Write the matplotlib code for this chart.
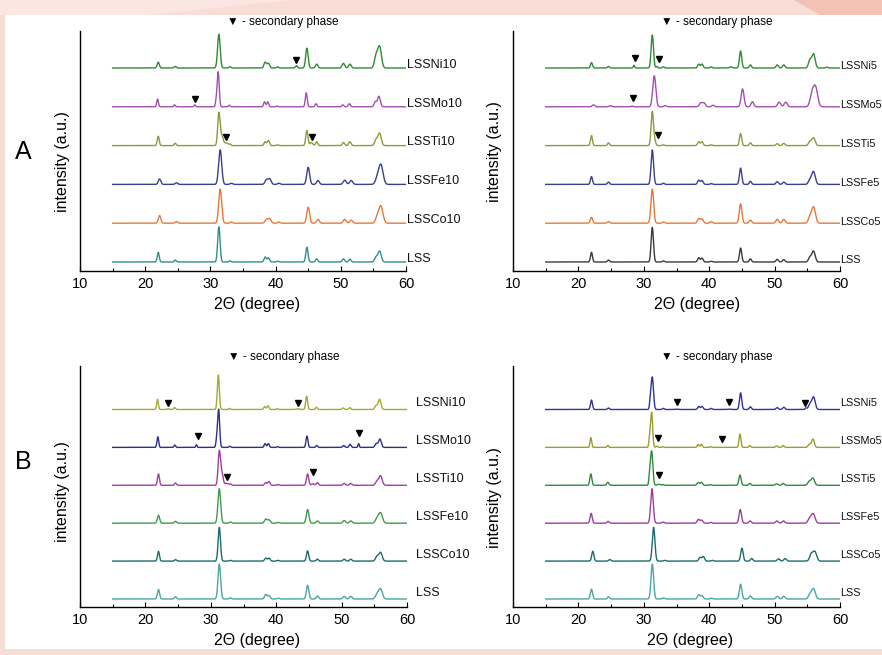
import numpy as np
import matplotlib
matplotlib.use("Agg")
import matplotlib.pyplot as plt
from matplotlib.patches import Rectangle, Polygon
from matplotlib.transforms import blended_transform_factory

plt.rcParams['font.family'] = ['Liberation Sans', 'DejaVu Sans']

# ---------------- data ----------------
# common perovskite reflections (2theta, degree) and base peak widths (sigma, degree)
peak_pos = [22.0, 24.6, 31.3, 33.0, 38.4, 38.9, 40.3, 44.8, 46.3, 50.4, 51.4, 55.4, 55.95]
peak_sig = [0.15, 0.15, 0.18, 0.15, 0.17, 0.17, 0.15, 0.17, 0.16, 0.18, 0.18, 0.22, 0.25]

# Panel A (left): bottom -> top
AL_names = ["LSS", "LSSCo10", "LSSFe10", "LSSTi10", "LSSMo10", "LSSNi10"]
AL_colors = ["#2f8f8f", "#e8783a", "#3b3f92", "#8c9a3a", "#a34fb0", "#2f8a35"]
AL_heights = [
    [0.25, 0.05, 0.91, 0.03, 0.13, 0.11, 0.02, 0.38, 0.08, 0.08, 0.07, 0.12, 0.28],
    [0.20, 0.04, 0.88, 0.03, 0.10, 0.12, 0.03, 0.41, 0.10, 0.10, 0.08, 0.15, 0.43],
    [0.14, 0.04, 0.89, 0.03, 0.12, 0.14, 0.03, 0.44, 0.10, 0.11, 0.10, 0.15, 0.50],
    [0.24, 0.06, 0.84, 0.03, 0.10, 0.13, 0.02, 0.39, 0.10, 0.08, 0.10, 0.15, 0.32],
    [0.20, 0.05, 0.90, 0.04, 0.13, 0.13, 0.02, 0.36, 0.08, 0.05, 0.08, 0.13, 0.27],
    [0.15, 0.04, 0.87, 0.03, 0.15, 0.12, 0.03, 0.51, 0.10, 0.12, 0.10, 0.30, 0.55],
]
AL_shift = [0.0, 0.2, 0.2, 0.0, -0.1, 0.0]
AL_width = [1.0, 1.25, 1.3, 1.0, 0.85, 1.1]
AL_extra = [[], [], [],
            [(31.75, 0.25, 0.2), (32.4, 0.07, 0.3), (45.5, 0.08, 0.2)],
            [(27.6, 0.05, 0.12), (30.9, 0.15, 0.12)],
            [(43.2, 0.06, 0.15)]]
AL_marks = [(5, 43.2, 0.21), (4, 27.7, 0.20), (3, 32.4, 0.22), (3, 45.6, 0.22)]

# Panel A (right)
AR_names = ["LSS", "LSSCo5", "LSSFe5", "LSSTi5", "LSSMo5", "LSSNi5"]
AR_colors = ["#3a3a3a", "#e8783a", "#3b3f92", "#8c9a3a", "#a34fb0", "#2f8a35"]
AR_heights = [
    [0.25, 0.05, 0.89, 0.03, 0.11, 0.10, 0.02, 0.36, 0.08, 0.07, 0.06, 0.12, 0.28],
    [0.15, 0.04, 0.88, 0.03, 0.12, 0.11, 0.04, 0.50, 0.08, 0.10, 0.10, 0.15, 0.41],
    [0.20, 0.06, 0.89, 0.03, 0.11, 0.10, 0.02, 0.42, 0.08, 0.07, 0.06, 0.12, 0.33],
    [0.26, 0.07, 0.88, 0.02, 0.10, 0.10, 0.02, 0.31, 0.07, 0.05, 0.06, 0.10, 0.20],
    [0.05, 0.03, 0.80, 0.03, 0.10, 0.10, 0.04, 0.46, 0.13, 0.12, 0.12, 0.30, 0.50],
    [0.14, 0.04, 0.85, 0.03, 0.10, 0.10, 0.03, 0.44, 0.08, 0.08, 0.08, 0.20, 0.36],
]
AR_shift = [0.0, 0.0, 0.0, 0.0, 0.3, 0.0]
AR_width = [1.0, 1.15, 1.05, 1.0, 1.3, 1.0]
AR_extra = [[], [], [],
            [(31.7, 0.10, 0.15)],
            [(28.2, 0.02, 0.12)],
            [(28.5, 0.07, 0.1), (32.0, 0.04, 0.12), (43.3, 0.03, 0.2), (58.0, 0.02, 0.2)]]
AR_marks = [(5, 28.6, 0.25), (5, 32.3, 0.22), (4, 28.4, 0.22), (3, 32.2, 0.27)]

# Panel B (left)
BL_names = ["LSS", "LSSCo10", "LSSFe10", "LSSTi10", "LSSMo10", "LSSNi10"]
BL_colors = ["#4aa5a5", "#1d6b6b", "#3f9a4c", "#a23ea0", "#2d2f8c", "#a3aa34"]
BL_heights = [
    [0.25, 0.06, 0.92, 0.03, 0.12, 0.09, 0.02, 0.36, 0.08, 0.07, 0.07, 0.12, 0.27],
    [0.26, 0.04, 0.89, 0.02, 0.08, 0.08, 0.02, 0.27, 0.05, 0.05, 0.05, 0.12, 0.23],
    [0.21, 0.05, 0.91, 0.03, 0.11, 0.09, 0.02, 0.36, 0.06, 0.07, 0.06, 0.12, 0.27],
    [0.30, 0.06, 0.90, 0.03, 0.07, 0.10, 0.02, 0.30, 0.07, 0.05, 0.05, 0.10, 0.25],
    [0.28, 0.06, 1.00, 0.03, 0.10, 0.10, 0.02, 0.30, 0.05, 0.05, 0.08, 0.10, 0.22],
    [0.27, 0.05, 0.91, 0.03, 0.08, 0.10, 0.02, 0.35, 0.06, 0.04, 0.05, 0.10, 0.27],
]
BL_shift = [0.0, 0.0, 0.0, 0.0, -0.1, -0.15]
BL_width = [1.1, 1.0, 1.15, 1.0, 0.85, 0.85]
BL_extra = [[], [], [],
            [(31.7, 0.30, 0.18), (32.4, 0.05, 0.3), (45.6, 0.04, 0.2)],
            [(27.8, 0.07, 0.1), (30.9, 0.20, 0.12), (52.6, 0.10, 0.1)],
            [(23.5, 0.02, 0.15), (43.3, 0.02, 0.2)]]
BL_marks = [(5, 23.5, 0.18), (5, 43.4, 0.18), (4, 28.0, 0.30), (4, 52.6, 0.37),
            (3, 32.5, 0.23), (3, 45.6, 0.36)]

# Panel B (right)
BR_names = ["LSS", "LSSCo5", "LSSFe5", "LSSTi5", "LSSMo5", "LSSNi5"]
BR_colors = ["#4aa5a5", "#1d6b6b", "#9c3f9c", "#2f8c3e", "#9c9c30", "#30349e"]
BR_heights = [
    [0.26, 0.06, 0.92, 0.03, 0.11, 0.09, 0.02, 0.39, 0.08, 0.07, 0.07, 0.12, 0.27],
    [0.26, 0.04, 0.89, 0.02, 0.10, 0.12, 0.02, 0.34, 0.07, 0.06, 0.07, 0.18, 0.25],
    [0.26, 0.05, 0.91, 0.03, 0.10, 0.08, 0.02, 0.36, 0.06, 0.06, 0.06, 0.12, 0.25],
    [0.30, 0.08, 0.90, 0.02, 0.07, 0.08, 0.02, 0.27, 0.05, 0.04, 0.05, 0.10, 0.19],
    [0.26, 0.05, 0.92, 0.02, 0.08, 0.08, 0.02, 0.35, 0.05, 0.04, 0.05, 0.08, 0.22],
    [0.25, 0.04, 0.85, 0.03, 0.08, 0.08, 0.03, 0.44, 0.07, 0.05, 0.06, 0.14, 0.33],
]
BR_shift = [0.0, 0.2, -0.05, -0.1, -0.1, 0.0]
BR_width = [1.1, 1.1, 1.1, 1.0, 0.85, 1.0]
BR_extra = [[], [], [],
            [(30.9, 0.25, 0.12), (32.3, 0.03, 0.2)],
            [(30.9, 0.25, 0.12), (32.0, 0.03, 0.15)],
            [(31.0, 0.20, 0.12), (35.0, 0.01, 0.2), (43.0, 0.01, 0.2), (54.8, 0.04, 0.12)]]
BR_marks = [(5, 35.0, 0.21), (5, 43.0, 0.21), (5, 54.6, 0.18), (4, 32.2, 0.26),
            (4, 41.9, 0.21), (3, 32.4, 0.26)]

x_start, x_end = 15.0, 60.0
tick_vals = [10, 20, 30, 40, 50, 60]

# ---------------- figure ----------------
W, H = 882, 655
fig = plt.figure(figsize=(W / 100, H / 100), dpi=100)
fig.patch.set_facecolor("#f8dcd6")
# decorative pink background shapes + white panel (behind the axes)
fig.add_artist(Polygon([(0, 1), (0.33, 1), (0.17, 0.977), (0, 0.977)], closed=True,
                       transform=fig.transFigure, facecolor="#fbe6e1", edgecolor="none",
                       zorder=-10))
fig.add_artist(Polygon([(0.9, 1), (1, 1), (1, 0.977), (0.93, 0.977)], closed=True,
                       transform=fig.transFigure, facecolor="#f4c1b6", edgecolor="none",
                       zorder=-10))
fig.add_artist(Rectangle((5 / W, 6 / H), 1 - 5 / W, (649 - 15) / H, transform=fig.transFigure,
                         facecolor="white", edgecolor="none", zorder=-9))

grid = np.linspace(x_start, x_end, 3000)


def pattern(heights, shift, wscale, extra):
    y = np.zeros_like(grid)
    for p, s, h in zip(peak_pos, peak_sig, heights):
        sg = s * wscale
        y += h * np.exp(-0.5 * ((grid - p - shift) / sg) ** 2)
    for p, h, s in extra:
        y += h * np.exp(-0.5 * ((grid - p) / s) ** 2)
    return y


def panel(rect, names, colors, heights, shifts, widths, extras, marks,
          spacing_px, base_px, label_dx, label_dy, label_fs, ylab_y, xlab_x):
    left, bottom, width, height = rect
    ax = fig.add_axes([left / W, (H - bottom) / H, width / W, height / H])
    ax.patch.set_alpha(0)
    unit = spacing_px
    top = height / unit
    off0 = base_px / unit
    for i, nm in enumerate(names):
        base = off0 + i
        y = pattern(heights[i], shifts[i], widths[i], extras[i]) + base
        ax.plot(grid, y, color=colors[i], lw=1.0, solid_joinstyle="round")
        ax.text(60 + label_dx, base + label_dy, nm, fontsize=label_fs, va="center", ha="left",
                clip_on=False, color="#111111")
    for (i, p, dy) in marks:
        ax.plot([p], [off0 + i + dy], marker="v", color="black", ms=4.6, ls="none")
    ax.set_xlim(10, 60)
    ax.set_ylim(0, top)
    ax.set_xticks(tick_vals)
    ax.set_xticks([15, 25, 35, 45, 55], minor=True)
    ax.set_yticks([])
    ax.tick_params(axis="x", which="major", direction="in", length=3.5, width=0.8,
                   labelsize=10.5, pad=4)
    ax.tick_params(axis="x", which="minor", direction="in", length=2, width=0.8)
    for s in ["top", "right"]:
        ax.spines[s].set_visible(False)
    for s in ["left", "bottom"]:
        ax.spines[s].set_linewidth(1.0)
    trans = blended_transform_factory(ax.transData, ax.transAxes)
    ax.text(xlab_x, -33 / height, "2\u0398 (degree)", transform=trans, ha="center",
            va="center", fontsize=11.5)
    ax.text(-18 / width, ylab_y, "intensity (a.u.)", transform=ax.transAxes, rotation=90,
            ha="center", va="center", fontsize=11.5)
    ax.text(41.1, 1 + 9 / height, "\u25bc - secondary phase", transform=trans,
            ha="center", va="center", fontsize=8.5)
    return ax


panel((80, 271, 326, 240), AL_names, AL_colors, AL_heights, AL_shift, AL_width, AL_extra,
      AL_marks, 38.8, 9, 0.1, 0.08, 9, 0.458, 37.1)
panel((513, 271, 327, 240), AR_names, AR_colors, AR_heights, AR_shift, AR_width, AR_extra,
      AR_marks, 38.8, 9, 0.03, 0.04, 7.8, 0.496, 38.1)
panel((80, 607, 327, 241), BL_names, BL_colors, BL_heights, BL_shift, BL_width, BL_extra,
      BL_marks, 37.9, 8, 1.4, 0.16, 9, 0.477, 37.1)
panel((513, 607, 327, 241), BR_names, BR_colors, BR_heights, BR_shift, BR_width, BR_extra,
      BR_marks, 37.9, 8, 0.03, 0.17, 7.8, 0.456, 37.1)

fig.text(15 / W, 1 - 152 / H, "A", fontsize=18, ha="left", va="center")
fig.text(15 / W, 1 - 462 / H, "B", fontsize=18, ha="left", va="center")

fig.savefig("out.png", dpi=100, facecolor=fig.get_facecolor())
